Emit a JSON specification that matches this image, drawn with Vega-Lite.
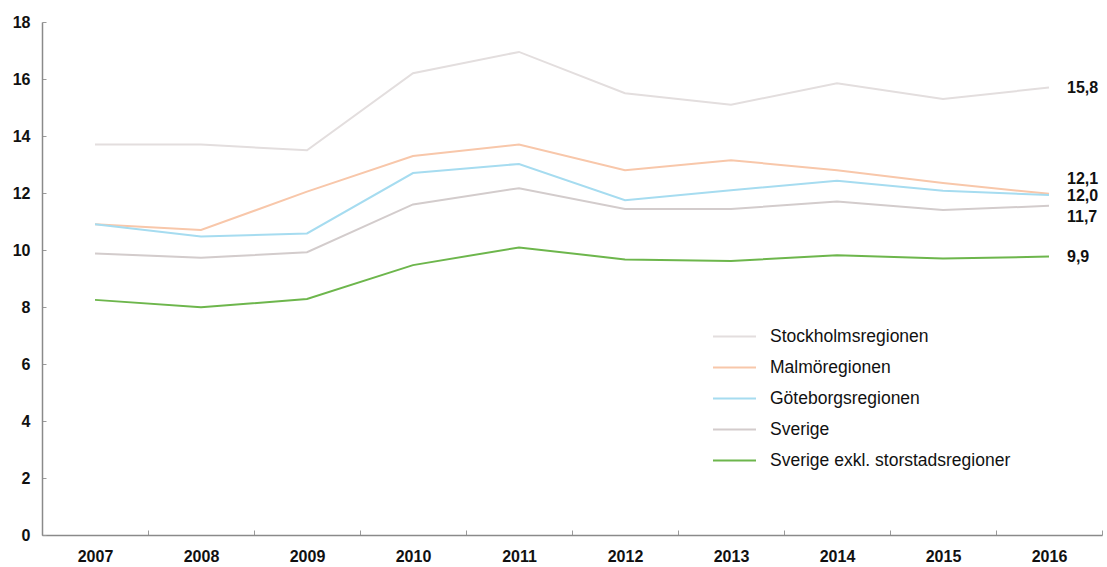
{
  "$schema": "https://vega.github.io/schema/vega-lite/v6.json",
  "width": 1060,
  "height": 513,
  "autosize": {"type": "none"},
  "padding": {"left": 42, "top": 22, "right": 5, "bottom": 32},
  "background": "white",
  "config": {
    "view": {"stroke": null},
    "font": "Liberation Sans",
    "axis": {
      "grid": false,
      "domainColor": "#8a8a8a",
      "domainWidth": 1.5,
      "tickColor": "#9a9a9a",
      "labelColor": "#111111",
      "labelFont": "Liberation Sans",
      "labelFontSize": 16,
      "labelFontWeight": "bold",
      "title": null
    }
  },
  "data": {
    "values": [
      {"year": "2007", "region": "Stockholmsregionen", "value": 13.7},
      {"year": "2008", "region": "Stockholmsregionen", "value": 13.7},
      {"year": "2009", "region": "Stockholmsregionen", "value": 13.5},
      {"year": "2010", "region": "Stockholmsregionen", "value": 16.2},
      {"year": "2011", "region": "Stockholmsregionen", "value": 16.95},
      {"year": "2012", "region": "Stockholmsregionen", "value": 15.5},
      {"year": "2013", "region": "Stockholmsregionen", "value": 15.1},
      {"year": "2014", "region": "Stockholmsregionen", "value": 15.85},
      {"year": "2015", "region": "Stockholmsregionen", "value": 15.3},
      {"year": "2016", "region": "Stockholmsregionen", "value": 15.7, "label": "15,8"},
      {"year": "2007", "region": "Malmöregionen", "value": 10.9},
      {"year": "2008", "region": "Malmöregionen", "value": 10.7},
      {"year": "2009", "region": "Malmöregionen", "value": 12.05},
      {"year": "2010", "region": "Malmöregionen", "value": 13.3},
      {"year": "2011", "region": "Malmöregionen", "value": 13.7},
      {"year": "2012", "region": "Malmöregionen", "value": 12.8},
      {"year": "2013", "region": "Malmöregionen", "value": 13.15},
      {"year": "2014", "region": "Malmöregionen", "value": 12.8},
      {"year": "2015", "region": "Malmöregionen", "value": 12.35},
      {"year": "2016", "region": "Malmöregionen", "value": 11.97, "label": "12,1"},
      {"year": "2007", "region": "Göteborgsregionen", "value": 10.9},
      {"year": "2008", "region": "Göteborgsregionen", "value": 10.47},
      {"year": "2009", "region": "Göteborgsregionen", "value": 10.58},
      {"year": "2010", "region": "Göteborgsregionen", "value": 12.7},
      {"year": "2011", "region": "Göteborgsregionen", "value": 13.02},
      {"year": "2012", "region": "Göteborgsregionen", "value": 11.75},
      {"year": "2013", "region": "Göteborgsregionen", "value": 12.1},
      {"year": "2014", "region": "Göteborgsregionen", "value": 12.43},
      {"year": "2015", "region": "Göteborgsregionen", "value": 12.08},
      {"year": "2016", "region": "Göteborgsregionen", "value": 11.93, "label": "12,0"},
      {"year": "2007", "region": "Sverige", "value": 9.88},
      {"year": "2008", "region": "Sverige", "value": 9.73},
      {"year": "2009", "region": "Sverige", "value": 9.92},
      {"year": "2010", "region": "Sverige", "value": 11.6},
      {"year": "2011", "region": "Sverige", "value": 12.17},
      {"year": "2012", "region": "Sverige", "value": 11.44},
      {"year": "2013", "region": "Sverige", "value": 11.44},
      {"year": "2014", "region": "Sverige", "value": 11.7},
      {"year": "2015", "region": "Sverige", "value": 11.4},
      {"year": "2016", "region": "Sverige", "value": 11.55, "label": "11,7"},
      {"year": "2007", "region": "Sverige exkl. storstadsregioner", "value": 8.25},
      {"year": "2008", "region": "Sverige exkl. storstadsregioner", "value": 7.99},
      {"year": "2009", "region": "Sverige exkl. storstadsregioner", "value": 8.28},
      {"year": "2010", "region": "Sverige exkl. storstadsregioner", "value": 9.47},
      {"year": "2011", "region": "Sverige exkl. storstadsregioner", "value": 10.09},
      {"year": "2012", "region": "Sverige exkl. storstadsregioner", "value": 9.67},
      {"year": "2013", "region": "Sverige exkl. storstadsregioner", "value": 9.61},
      {"year": "2014", "region": "Sverige exkl. storstadsregioner", "value": 9.82},
      {"year": "2015", "region": "Sverige exkl. storstadsregioner", "value": 9.7},
      {"year": "2016", "region": "Sverige exkl. storstadsregioner", "value": 9.77, "label": "9,9"}
    ]
  },
  "encoding": {
    "x": {
      "field": "year",
      "type": "ordinal",
      "bandPosition": 0.5,
      "scale": {"type": "band", "paddingInner": 0, "paddingOuter": 0},
      "axis": {
        "labelAngle": 0,
        "tickBand": "extent",
        "tickSize": -5,
        "labelPadding": 18,
        "labelBaseline": "top"
      }
    },
    "y": {
      "field": "value",
      "type": "quantitative",
      "scale": {"domain": [0, 18], "nice": false},
      "axis": {
        "values": [0, 2, 4, 6, 8, 10, 12, 14, 16, 18],
        "tickSize": -4,
        "labelPadding": 16
      }
    }
  },
  "layer": [
    {
      "mark": {"type": "line", "strokeWidth": 2},
      "encoding": {
        "color": {
          "field": "region",
          "type": "nominal",
          "sort": ["Stockholmsregionen", "Malmöregionen", "Göteborgsregionen", "Sverige", "Sverige exkl. storstadsregioner"],
          "scale": {
            "domain": ["Stockholmsregionen", "Malmöregionen", "Göteborgsregionen", "Sverige", "Sverige exkl. storstadsregioner"],
            "range": ["#e3dede", "#f8c7aa", "#a6dcf0", "#d3cccc", "#6db64c"]
          },
          "legend": {
            "title": null,
            "orient": "none",
            "legendX": 670,
            "legendY": 292,
            "symbolType": "stroke",
            "symbolSize": 1849,
            "symbolStrokeWidth": 2,
            "rowPadding": -11,
            "labelOffset": 13,
            "labelFont": "Liberation Sans",
            "labelFontSize": 17.5,
            "labelColor": "#111111",
            "labelLimit": 400,
            "padding": 0
          }
        }
      }
    },
    {
      "transform": [{"filter": "datum.region === 'Stockholmsregionen' || datum.region === 'Sverige exkl. storstadsregioner'"}, {"filter": "datum.label != null"}],
      "mark": {"type": "text", "align": "left", "baseline": "middle", "dx": 18, "fontSize": 16, "font": "Liberation Sans", "fontWeight": "bold", "color": "#111111"},
      "encoding": {"text": {"field": "label"}}
    },
    {
      "transform": [{"filter": "datum.region === 'Malmöregionen' && datum.label != null"}],
      "mark": {"type": "text", "align": "left", "baseline": "middle", "dx": 18, "dy": -15, "fontSize": 16, "font": "Liberation Sans", "fontWeight": "bold", "color": "#111111"},
      "encoding": {"text": {"field": "label"}}
    },
    {
      "transform": [{"filter": "datum.region === 'Göteborgsregionen' && datum.label != null"}],
      "mark": {"type": "text", "align": "left", "baseline": "middle", "dx": 18, "dy": 1, "fontSize": 16, "font": "Liberation Sans", "fontWeight": "bold", "color": "#111111"},
      "encoding": {"text": {"field": "label"}}
    },
    {
      "transform": [{"filter": "datum.region === 'Sverige' && datum.label != null"}],
      "mark": {"type": "text", "align": "left", "baseline": "middle", "dx": 18, "dy": 11, "fontSize": 16, "font": "Liberation Sans", "fontWeight": "bold", "color": "#111111"},
      "encoding": {"text": {"field": "label"}}
    }
  ]
}
